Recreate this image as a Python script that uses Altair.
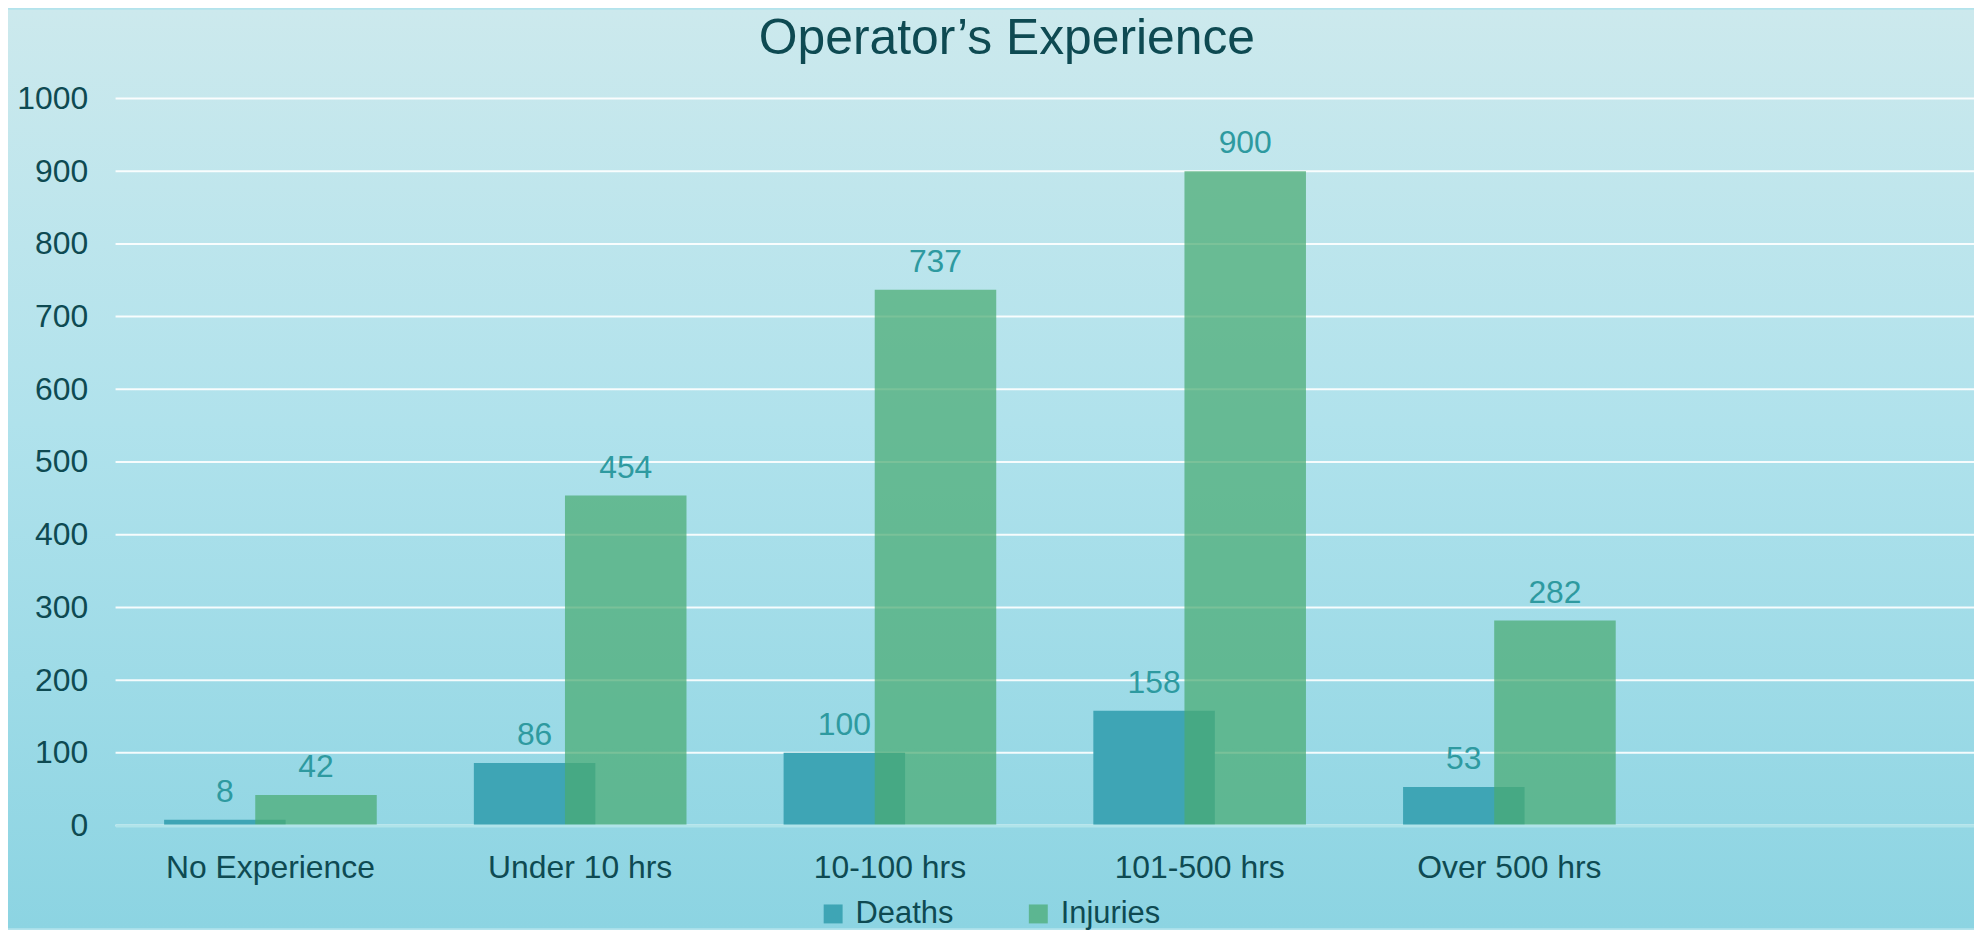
import altair as alt
import pandas as pd

categories = ["No Experience", "Under 10 hrs", "10-100 hrs", "101-500 hrs", "Over 500 hrs"]
deaths = [8, 86, 100, 158, 53]
injuries = [42, 454, 737, 900, 282]
series_names = ["Deaths", "Injuries"]
y_ticks = [0, 100, 200, 300, 400, 500, 600, 700, 800, 900, 1000]
title_text = ["Operator’s Experience"]

FONT = "Liberation Sans"
DARK = "#0e4a52"
LABEL = "#2e9aa0"

rows = []
for c, d, i in zip(categories, deaths, injuries):
    rows.append({"category": c, "series": "Deaths", "value": d})
    rows.append({"category": c, "series": "Injuries", "value": i})
df = pd.DataFrame(rows)

W, H = 1866, 730
PL, PT, PB = 108, 89, 103

x_dom = categories + [""]
xs = alt.Scale(domain=x_dom, paddingInner=0, paddingOuter=0)
ys = alt.Scale(domain=[0, 1000], nice=False)

x_axis = alt.Axis(labelAngle=0, labelFont=FONT, labelFontSize=32, labelLimit=500,
                  labelColor=DARK, labelPadding=27, ticks=False,
                  domain=True, domainColor="#b0e4ea", domainWidth=3,
                  grid=False, zindex=1, title=None)
y_axis = alt.Axis(values=y_ticks, format="d", labelFont=FONT, labelFontSize=32,
                  labelColor=DARK, labelPadding=28, ticks=False,
                  domain=False, grid=False, zindex=1, title=None)

color_scale = alt.Scale(domain=series_names, range=["#3ea5b5", "#49ab72"])
opac_scale = alt.Scale(domain=series_names, range=[1.0, 0.72])

legend = alt.Legend(
    title=None, orient="none", legendX=705, legendY=803, direction="horizontal",
    symbolType="square", symbolSize=361, symbolStrokeWidth=0,
    labelFont=FONT, labelFontSize=31, labelColor=DARK, labelOffset=7,
    columnPadding=69, zindex=1,
)

base = alt.Chart(df)

bg = alt.Chart(pd.DataFrame({"a": [0]})).mark_rect(
    fill=alt.LinearGradient(
        gradient="linear", x1=0, y1=0, x2=0, y2=1,
        stops=[
            alt.GradientStop(color="#cce9ed", offset=0),
            alt.GradientStop(color="#b0e2ec", offset=0.45),
            alt.GradientStop(color="#8cd4e2", offset=1),
        ],
    )
).encode(
    x=alt.value(-PL), x2=alt.value(W + 10), y=alt.value(-PT), y2=alt.value(H + PB)
)

grid = alt.Chart(pd.DataFrame({"v": y_ticks})).mark_rule(
    color="white", strokeWidth=2, opacity=0.9
).encode(y=alt.Y("v:Q", scale=ys, axis=y_axis))

OFF = 45.75
BW = 122

def bars(name, off):
    return base.transform_filter(alt.datum.series == name).mark_bar(
        width=BW, xOffset=off
    ).encode(
        x=alt.X("category:N", scale=xs, sort=x_dom, axis=x_axis),
        y=alt.Y("value:Q", scale=ys, axis=y_axis),
        color=alt.Color("series:N", scale=color_scale, legend=legend),
        opacity=alt.Opacity("series:N", scale=opac_scale, legend=legend),
    )

def labels(name, off):
    return base.transform_filter(alt.datum.series == name).mark_text(
        xOffset=off, dy=-18, baseline="alphabetic", align="center",
        font=FONT, fontSize=32, color=LABEL,
    ).encode(
        x=alt.X("category:N", scale=xs, sort=x_dom, axis=x_axis),
        y=alt.Y("value:Q", scale=ys, axis=y_axis),
        text=alt.Text("value:Q"),
    )

title = alt.Chart(pd.DataFrame({"t": title_text})).mark_text(
    font=FONT, fontSize=50, color=DARK, align="center", baseline="alphabetic"
).encode(
    text="t:N", x=alt.value(895), y=alt.value(-45)
)

chart = alt.layer(
    bg, grid, bars("Deaths", -OFF), bars("Injuries", OFF),
    labels("Deaths", -OFF), labels("Injuries", OFF), title,
).properties(
    width=W, height=H,
    autosize=alt.AutoSizeParams(type="none"),
    padding={"left": PL, "top": PT, "right": 0, "bottom": PB},
).configure(background="#b3e3ec").configure_view(stroke=None)

chart.save("out.html", embed_options={"renderer": "svg", "actions": False})
